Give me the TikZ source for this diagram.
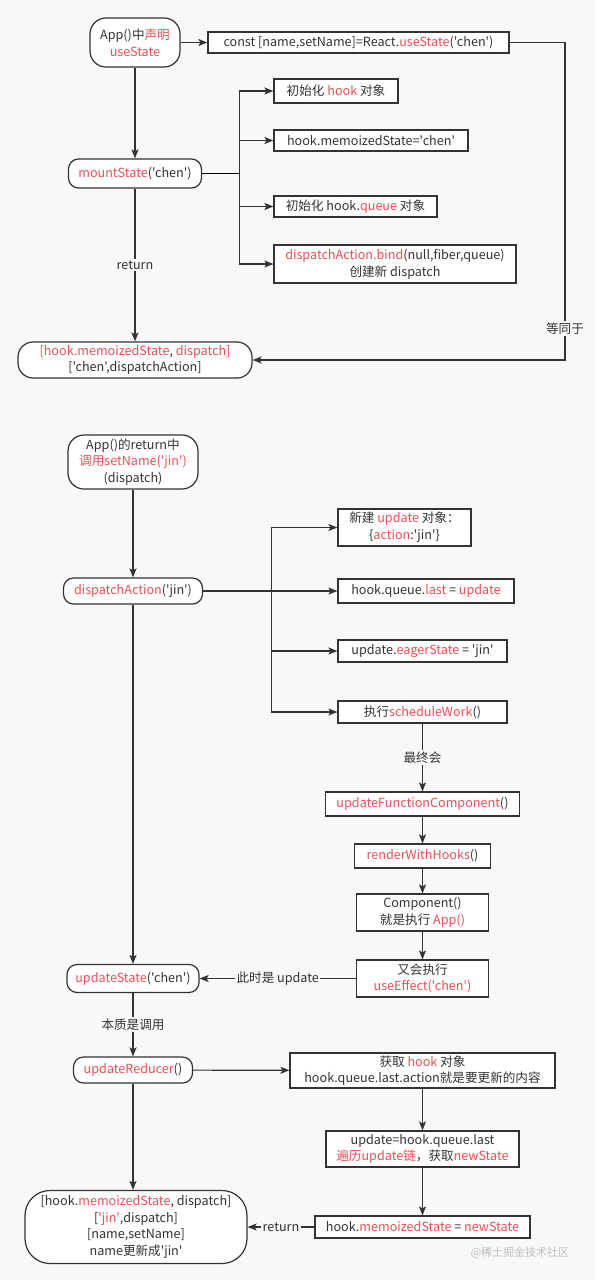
\documentclass[tikz,border=0pt]{standalone}
\usepackage{fontspec}
\usepackage{tikz}
\usetikzlibrary{arrows.meta,positioning,calc}
\usepackage{xcolor}
\newfontfamily\uifont{Noto Sans CJK SC}
\definecolor{bgcol}{RGB}{248,248,248}
\definecolor{linecol}{RGB}{51,51,51}
\definecolor{txtcol}{RGB}{51,51,51}
\definecolor{hlred}{RGB}{240,78,86}
\newcommand{\redtxt}[1]{\textcolor{hlred}{#1}}

\begin{document}
\begin{tikzpicture}[
  x=1pt, y=-1pt,
  font=\uifont\fontsize{12.6}{16.7}\selectfont,
  >={Stealth[length=9pt,width=7pt,inset=2pt]},
  line width=1.2pt,
  wh/.style 2 args={minimum width=#1pt, minimum height=#2pt},
  pill/.style={draw=linecol, fill=white, rounded corners=10pt, align=center, inner sep=0pt, text=txtcol},
  box/.style={draw=linecol, fill=white, align=center, inner sep=0pt, text=txtcol},
  arr/.style={->, draw=linecol},
  lbl/.style={fill=bgcol, text=txtcol, inner sep=1.5pt}
]
\fill[bgcol] (0,0) rectangle (595,1280);
\useasboundingbox (0,0) rectangle (595,1280);
\node[pill, wh={90}{49}, rounded corners=16pt] (app) at (135,42.5) {App()中\redtxt{声明}\\\redtxt{useState}};
\node[box, wh={301}{21}] (decl) at (358.5,42.5) {const [name,setName]=React.\redtxt{useState}('chen')};
\node[pill, wh={133}{29}] (mount) at (135,173.5) {\redtxt{mountState}('chen')};
\node[box, wh={124}{24}] (initHook) at (336,91) {初始化 \redtxt{hook} 对象};
\node[box, wh={194}{21}] (memo) at (371,140.5) {hook.memoizedState='chen'};
\node[box, wh={163}{21}] (initQueue) at (355.5,206.5) {初始化 hook.\redtxt{queue} 对象};
\node[box, wh={242}{38}] (bindDisp) at (395,264) {\redtxt{dispatchAction.bind}(null,fiber,queue)\\创建新 dispatch};
\node[pill, wh={234}{36}, rounded corners=15pt] (ret1) at (135,360) {\redtxt{[hook.memoizedState}, \redtxt{dispatch]}\\{}['chen',dispatchAction]};
\coordinate (fan1) at ($(mount.east)+(37,0)$);
\coordinate (eqc) at (565,42.5);
\draw[arr] (app) -- (decl);
\draw[arr] (app) -- (mount);
\draw (mount.east) -- (fan1);
\foreach \t in {initHook,memo,initQueue,bindDisp} \draw[arr] (fan1) |- (\t.west);
\draw[arr] (mount) -- node[lbl] {return} (ret1);
\draw[arr] (decl.east) -- (eqc) |- node[lbl, pos=0.45] {等同于} (ret1.east);
\node[pill, wh={130}{54}, rounded corners=16pt] (call) at (133,462) {App()的return中\\\redtxt{调用setName('jin')}\\(dispatch)};
\node[pill, wh={139}{26}] (dispatch) at (133,591) {\redtxt{dispatchAction}('jin')};
\node[box, wh={133}{37}] (newUpd) at (404.5,527.5) {新建 \redtxt{update} 对象：\\\{\redtxt{action}:'jin'\}};
\node[box, wh={176}{24}] (last) at (426,591) {hook.queue.\redtxt{last} = \redtxt{update}};
\node[box, wh={169}{22}] (eager) at (422.5,651) {update.\redtxt{eagerState} = 'jin'};
\node[box, wh={169}{22}] (sched) at (422.5,712) {执行\redtxt{scheduleWork}()};
\node[box, wh={194}{24}] (ufc) at (422.5,804) {\redtxt{updateFunctionComponent}()};
\node[box, wh={136}{24}] (rwh) at (422.5,856) {\redtxt{renderWithHooks}()};
\node[box, wh={132}{37}] (comp) at (422.5,912.5) {Component()\\就是执行 \redtxt{App()}};
\node[box, wh={132}{37}] (eff) at (422.5,978.5) {又会执行\\\redtxt{useEffect('chen')}};
\node[pill, wh={132}{28}] (upState) at (133,978.5) {\redtxt{updateState}('chen')};
\coordinate (fan2) at ($(dispatch.east)+(68,0)$);
\draw[arr] (call) -- (dispatch);
\draw[arr] (dispatch) -- (last);
\foreach \t in {newUpd,eager,sched} \draw[arr] (fan2) |- (\t.west);
\draw[arr] (sched) -- node[lbl] {最终会} (ufc);
\foreach \a/\b in {ufc/rwh,rwh/comp,comp/eff} \draw[arr] (\a) -- (\b);
\draw[arr] (eff) -- node[lbl] {此时是 update} (upState);
\draw[arr] (dispatch) -- (upState);
\node[pill, wh={119}{26}] (reducer) at (133,1070) {\redtxt{updateReducer}()};
\node[box, wh={265}{35}] (getHook) at (422.5,1070.5) {获取 \redtxt{hook} 对象\\hook.queue.last.action就是要更新的内容};
\node[box, wh={193}{36}] (traverse) at (422.5,1149) {update=hook.queue.last\\\redtxt{遍历update链}，获取\redtxt{newState}};
\node[box, wh={215}{22}] (setMemo) at (422.5,1227) {hook.\redtxt{memoizedState} = \redtxt{newState}};
\node[pill, wh={222}{73}, rounded corners=25pt] (ret2) at (136,1227) {[hook.\redtxt{memoizedState}, dispatch]\\{}[\redtxt{'jin'},dispatch]\\{}[name,setName]\\name更新成'jin'};
\node[text=black!25, font=\uifont\fontsize{11}{13}\selectfont] (mark) at (520,1253) {@稀土掘金技术社区};
\draw[arr] (upState) -- node[lbl] {本质是调用} (reducer);
\draw[arr] (reducer) -- (getHook);
\draw[arr] (getHook) -- (traverse);
\draw[arr] (traverse) -- (setMemo);
\draw[arr] (setMemo) -- node[lbl] {return} (ret2);
\draw[arr] (reducer) -- (reducer |- ret2.north);
\end{tikzpicture}
\end{document}
